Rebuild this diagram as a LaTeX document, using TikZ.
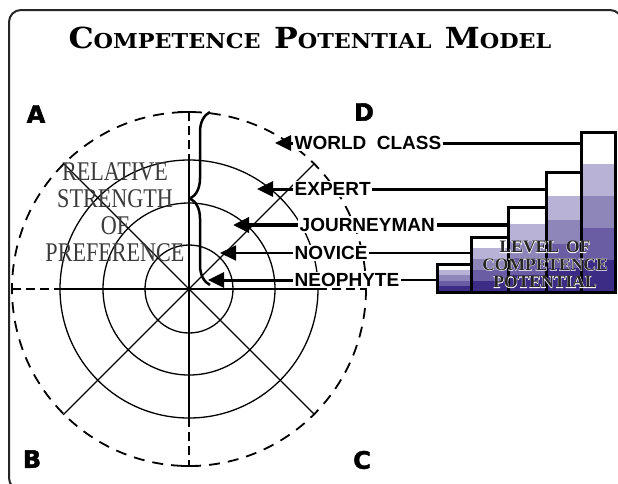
\documentclass[tikz,border=0pt]{standalone}
\usepackage{fontspec}
\setmainfont{Liberation Serif}
\newfontfamily\titlefont{DejaVu Serif}
\newfontfamily\labelfont{Liberation Sans}
\newfontfamily\cornerfont[FakeBold=2]{DejaVu Sans}
\newfontfamily\halofont[FakeBold=4]{Liberation Serif}
\usetikzlibrary{arrows.meta,decorations.pathreplacing}
\definecolor{band1}{HTML}{B8B2D6}
\definecolor{band2}{HTML}{8E85B9}
\definecolor{band3}{HTML}{6B5DA3}
\definecolor{band4}{HTML}{3C2C85}
\definecolor{ink}{HTML}{3A3A3A}
\definecolor{darkink}{HTML}{262626}
\newcommand\initcap[1]{{\fontsize{29}{29}\selectfont #1}}

\begin{document}
\begin{tikzpicture}[x=1pt,y=-1pt,
    ring/.style={line width=1.3pt},
    axisdash/.style={line width=1.5pt,dash pattern=on 9pt off 5pt},
    outer/.style={line width=1.8pt,dash pattern=on 11pt off 8pt},
    lvl/.style={font=\labelfont\bfseries\fontsize{19}{19}\selectfont,fill=white,inner sep=1.5pt,anchor=west},
    corner/.style={font=\cornerfont\bfseries\fontsize{24}{24}\selectfont},
    pointer/.style={-{Triangle[length=16pt,width=15pt]}}]
  \useasboundingbox (0,0) rectangle (618,483);
  \clip (0,0) rectangle (618,483);
  \draw[line width=2pt,rounded corners=12pt,color=black!85] (9,10) rectangle (622,490);

  % title and corners
  \node[font=\titlefont\bfseries\fontsize{20.5}{20.5}\selectfont,xscale=1.09] (title) at (310,38)
    {\initcap{C}OMPETENCE\hspace{.6em}\initcap{P}OTENTIAL\hspace{.6em}\initcap{M}ODEL};
  \node[corner] (A) at (36,114) {A};
  \node[corner] (D) at (364,112) {D};
  \node[corner] (B) at (32,459) {B};
  \node[corner] (C) at (362,460) {C};

  % rings
  \draw[ring] (189,289) circle (44);
  \draw[ring] (189,289) circle (86);
  \draw[ring] (189,289) circle (129);
  \draw[outer] (189,289) circle (177);
  \foreach \a in {45,135,225,315}
    \draw[ring] (189,289) -- ++(\a:178);
  \draw[ring] (60,289) -- (318,289);
  \draw[axisdash] (12,289) -- (60,289) (318,289) -- (366,289);
  \draw[ring] (189,160) -- (189,289);
  \draw[line width=2pt] (189,289) -- (189,418);
  \draw[axisdash] (189,112) -- (189,160) (189,418) -- (189,466);
  \draw[ring] (178,112) -- (196,112) (181,466) -- (199,466);
  \draw[line width=2.5pt,decorate,decoration={brace,amplitude=20pt}] (210,285) -- (210,112);

  \node[align=center,text=ink,font=\fontsize{27}{27}\selectfont,xscale=.82] (rel) at (115,212)
    {RELATIVE\\STRENGTH\\OF\\PREFERENCE};

  % bars
  \foreach \i/\xl/\xr/\top in {1/437/471/264,2/471/508/237,3/508/546/207,4/546/581/172,5/581/615/132}{
    \pgfmathsetmacro\h{(292-\top)/5}
    \foreach \c [count=\k from 0] in {white,band1,band2,band3,band4}
      \fill[\c] (\xl,\top+\k*\h) rectangle (\xr,\top+\k*\h+\h);
    \draw[line width=3pt] (\xl,292) rectangle (\xr,\top);
    \coordinate (bar\i) at (\xl,\top);
  }
  \node[align=center,text=white,font=\halofont\bfseries\fontsize{17.5}{17.5}\selectfont] (halo) at (545,264.5)
    {LEVEL\hspace{.4em}OF\\COMPETENCE\\POTENTIAL};
  \node[align=center,text=darkink,font=\bfseries\fontsize{17.5}{17.5}\selectfont] (potential) at (halo)
    {LEVEL\hspace{.4em}OF\\COMPETENCE\\POTENTIAL};

  % levels
  \node[lvl] (wc) at (293,143) {WORLD\hspace{.55em}CLASS};
  \node[lvl] (exp) at (293,189) {EXPERT};
  \node[lvl] (jour) at (298,225) {JOURNEYMAN};
  \node[lvl] (nov) at (293,253) {NOVICE};
  \node[lvl] (neo) at (293,280) {NEOPHYTE};
  \coordinate (wcTip) at (275,143);
  \coordinate (expTip) at (257,189);
  \coordinate (jourTip) at (233,225);
  \coordinate (novTip) at (220,255);
  \coordinate (neoTip) at (208,279);

  \draw[pointer,line width=3pt] (wc.west) -- (wcTip);
  \draw[pointer,line width=3pt] (exp.west) -- (expTip);
  \draw[pointer,line width=3.5pt] (jour.west) -- (jourTip);
  \draw[pointer,line width=1.8pt] (nov.west) -- (novTip |- nov.west);
  \draw[pointer,line width=3pt] (neo.west) -- (neoTip |- neo.west);

  \draw[line width=3pt] (wc.east) -- (wc.east -| bar5);
  \draw[line width=3pt] (exp.east) -- (exp.east -| bar4);
  \draw[line width=3.5pt] (jour.east) -- (jour.east -| bar3);
  \draw[line width=1.8pt] (nov.east) -- (nov.east -| bar2);
  \draw[line width=1.8pt] (neo.east) -- (neo.east -| bar1);
\end{tikzpicture}
\end{document}
